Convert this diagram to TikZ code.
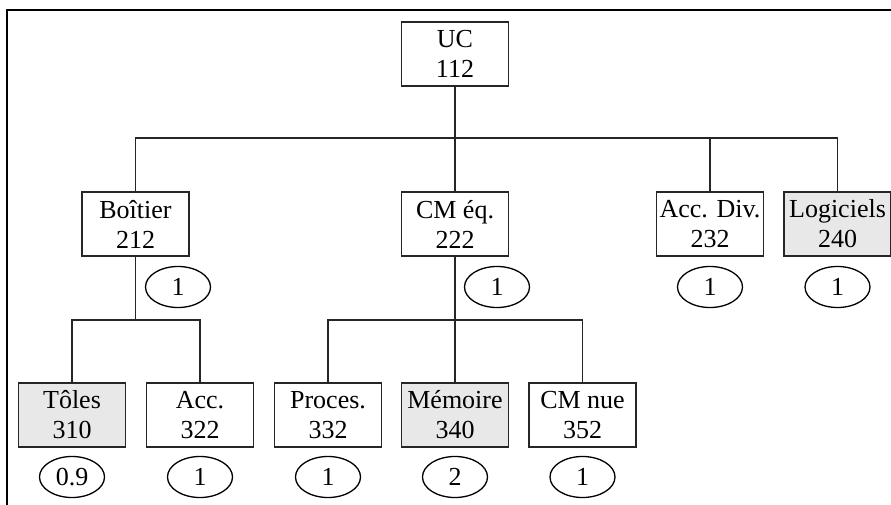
\documentclass[tikz,border=0pt]{standalone}
\usepackage{fontspec}
\setmainfont{Liberation Serif}
\usetikzlibrary{shapes.geometric}

\definecolor{partGray}{rgb}{0.91,0.91,0.91}
\definecolor{lineDark}{rgb}{0.15,0.15,0.15}

\begin{document}
\begin{tikzpicture}[
        x=1pt, y=-1pt,
        every node/.style={font=\fontsize{26}{30}\selectfont},
        partBox/.style={draw=lineDark, line width=1.5pt, rectangle, align=center,
                        minimum width=107pt, minimum height=64pt, inner sep=0pt},
        buyBox/.style={partBox, fill=partGray},
        qtyOval/.style={draw=black, line width=1.3pt, ellipse,
                        minimum width=65pt, minimum height=41pt, inner sep=0pt},
        linkLine/.style={lineDark, line width=1.8pt}
    ]
        \useasboundingbox (0,0) rectangle (891,505);

        % Frame, cut on the right and at the bottom
        \draw[black, line width=2.2pt] (7,505) -- (7,10) -- (891,10);

        % Level 1
        \node[partBox] (uc) at (455,54) {UC\\112};

        % Level 2
        \node[partBox] (boitier) at (135.5,224) {Boîtier\\212};
        \node[partBox] (cmeq) at (455,224) {CM éq.\\222};
        \node[partBox] (accdiv) at (710,224) {Acc. Div.\\232};
        \node[buyBox] (logiciels) at (837.5,224) {Logiciels\\240};

        % Level 3
        \node[buyBox] (toles) at (72,415) {Tôles\\310};
        \node[partBox] (acc) at (200,415) {Acc.\\322};
        \node[partBox] (proces) at (328,415) {Proces.\\332};
        \node[buyBox] (memoire) at (455,415) {Mémoire\\340};
        \node[partBox] (cmnue) at (582.5,415) {CM nue\\352};

        % Quantities
        \node[qtyOval] (qBoitier) at (178,287) {1};
        \node[qtyOval] (qCmeq) at (497,287) {1};
        \node[qtyOval] (qAccdiv) at (710,287) {1};
        \node[qtyOval] (qLogiciels) at (837.5,287) {1};
        \node[qtyOval] (qToles) at (72,477) {0.9};
        \node[qtyOval] (qAcc) at (200,477) {1};
        \node[qtyOval] (qProces) at (328,477) {1};
        \node[qtyOval] (qMemoire) at (455,477) {2};
        \node[qtyOval] (qCmnue) at (582.5,477) {1};

        % Bus lines
        \coordinate (busUc) at (455,138);
        \coordinate (busBoitier) at (135.5,320);
        \coordinate (busCmeq) at (455,320);

        \draw[linkLine] (uc.south) -- (busUc);
        \draw[linkLine] (boitier.north) |- (busUc) -| (logiciels.north);
        \draw[linkLine] (busUc) -- (cmeq.north);
        \draw[linkLine] (accdiv.north) |- (busUc);

        \draw[linkLine] (boitier.south) -- (busBoitier);
        \draw[linkLine] (toles.north) |- (busBoitier) -| (acc.north);

        \draw[linkLine] (cmeq.south) -- (busCmeq);
        \draw[linkLine] (proces.north) |- (busCmeq) -| (cmnue.north);
        \draw[linkLine] (busCmeq) -- (memoire.north);

    \end{tikzpicture}
\end{document}
